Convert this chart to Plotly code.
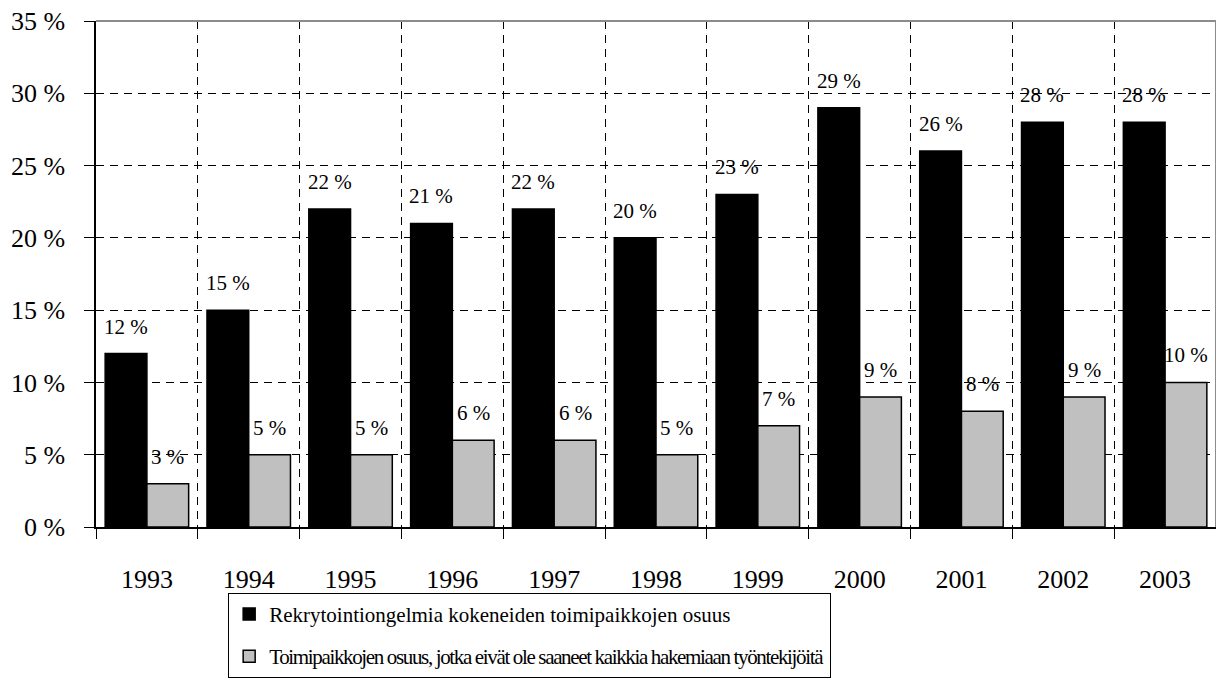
import plotly.graph_objects as go

vuodet = ["1993", "1994", "1995", "1996", "1997", "1998", "1999", "2000", "2001", "2002", "2003"]
rekry = [12, 15, 22, 21, 22, 20, 23, 29, 26, 28, 28]
ei_saaneet = [3, 5, 5, 6, 6, 5, 7, 9, 8, 9, 10]
y_ticks = [0, 5, 10, 15, 20, 25, 30, 35]
y_tekstit = [f"{v} %" for v in y_ticks]

nimi1 = "Rekrytointiongelmia kokeneiden toimipaikkojen osuus"
nimi2 = "Toimipaikkojen osuus, jotka eivät ole saaneet kaikkia hakemiaan työntekijöitä"

FONT = "Liberation Serif"

fig = go.Figure()
fig.add_trace(go.Bar(x=vuodet, y=rekry, name=nimi1, legendgroup="a",
                     marker=dict(color="black", line=dict(color="black", width=1.5))))
# alkuperäisessä toinen rivi on tiiviimpi
fig.add_trace(go.Bar(x=vuodet, y=ei_saaneet,
                     name=f'<span style="letter-spacing:-1.35px">{nimi2}</span>',
                     legendgroup="b",
                     marker=dict(color="#c0c0c0", line=dict(color="black", width=1.5))))

# arvot pylväiden yläpuolelle
annot = []
for i, (a, b) in enumerate(zip(rekry, ei_saaneet)):
    for off, v in ((-0.205, a), (0.205, b)):
        annot.append(dict(x=i + off, y=v, xref="x", yref="y", text=f"{v} %",
                          showarrow=False, yanchor="bottom", yshift=13,
                          font=dict(family=FONT, size=21, color="black")))

# sivun body-marginaali siirtää kuvaa 8 px, siksi koko ja marginaalit pienemmät
fig.update_layout(
    width=1216, height=670,
    margin=dict(l=88, r=8, t=13, b=151, autoexpand=False),
    paper_bgcolor="white", plot_bgcolor="white",
    barmode="group", bargap=0.18, bargroupgap=0,
    font=dict(family=FONT, size=26, color="black"),
    annotations=annot,
    showlegend=True,
    legend=dict(x=0.118, y=-0.13, xanchor="left", yanchor="top",
                bordercolor="black", borderwidth=1, bgcolor="white",
                font=dict(family=FONT, size=21, color="black"),
                traceorder="grouped", tracegroupgap=12, itemwidth=30),
    shapes=[
        dict(type="line", xref="paper", yref="paper", x0=0, x1=1, y0=1, y1=1,
             line=dict(color="#8c8c8c", width=2)),
        dict(type="line", xref="paper", yref="paper", x0=1, x1=1, y0=0, y1=1,
             line=dict(color="#8c8c8c", width=2)),
    ],
)

fig.update_xaxes(type="category", tickson="boundaries", ticks="outside", ticklen=10,
                 tickcolor="black", showline=True, linecolor="black", linewidth=1.5,
                 showgrid=True, gridcolor="black", gridwidth=1, griddash="8px,6px",
                 ticklabelstandoff=28, tickfont=dict(family=FONT, size=26),
                 automargin=False, ticklabeloverflow="allow")
fig.update_yaxes(range=[0, 35], tickvals=y_ticks, ticktext=y_tekstit, ticks="outside",
                 ticklen=10, tickcolor="black", showline=True, linecolor="black",
                 linewidth=1.5, showgrid=True, gridcolor="black", gridwidth=1,
                 griddash="8px,6px", zeroline=False, ticklabelstandoff=14,
                 tickfont=dict(family=FONT, size=26), automargin=False,
                 ticklabeloverflow="allow")

fig.write_html("out.html")
